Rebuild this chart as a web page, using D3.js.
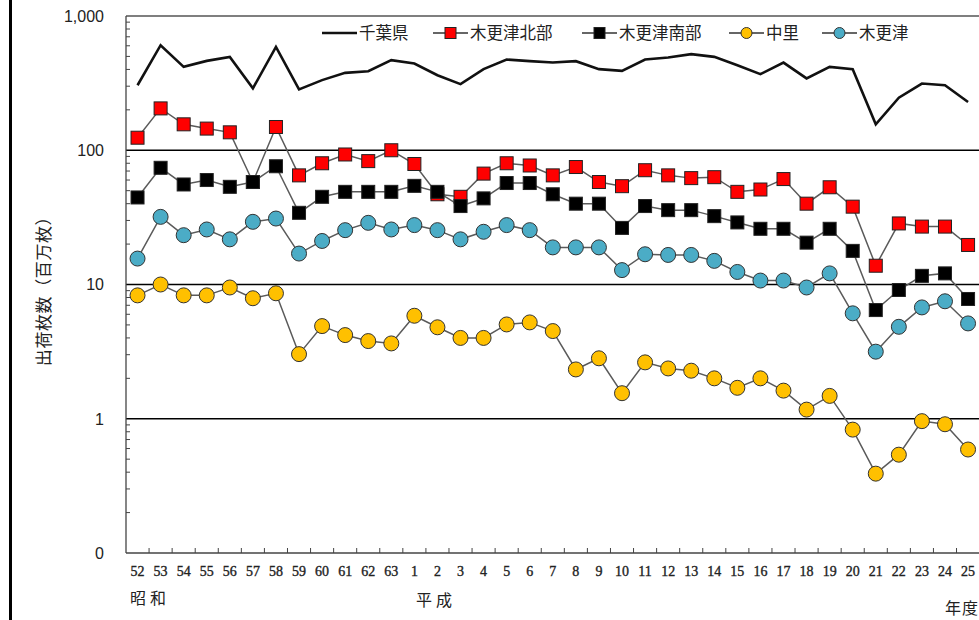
<!DOCTYPE html>
<html>
<head>
<meta charset="utf-8">
<script src="https://cdn.jsdelivr.net/npm/d3@7"></script>
<style>
  html, body { margin: 0; padding: 0; background: #fff; overflow: hidden; }
  svg { display: block; }
</style>
</head>
<body>
<svg id="chart" width="979" height="620"></svg>
<script>
// 年度（昭和52年度〜平成25年度）
const categories = ["52","53","54","55","56","57","58","59","60","61","62","63",
  "1","2","3","4","5","6","7","8","9","10","11","12","13","14","15","16","17","18","19","20","21","22","23","24","25"];

// 出荷枚数（百万枚）
const chiba = [305,606,418,463,496,289,589,284,333,377,388,469,
  443,362,311,402,474,461,450,461,402,390,474,491,520,496,430,369,450,343,418,402,156,246,314,305,229];
const kisarazuNorth = [124,205,156,145,136,58,149,65,80,93,83,100,
  79,47,45,67,80,77,65,75,58,54,71,65,62,63,49,51,61,40,53,38,13.8,28.5,27,27,19.7];
const kisarazuSouth = [44.5,74,55.6,60,53.4,58,76,34.2,45,49,49,49,
  54.3,49,38.4,43.8,57,57,47,40,40,26.4,38.4,35.8,35.8,32.3,29,26,26,20.5,26,17.8,6.45,9.1,11.6,12.1,7.8];
const nakazato = [8.3,10.0,8.3,8.3,9.5,7.9,8.6,3.03,4.9,4.2,3.79,3.64,
  5.85,4.8,4.0,4.0,5.04,5.22,4.5,2.33,2.82,1.55,2.63,2.37,2.28,2.0,1.70,2.0,1.62,1.17,1.48,0.83,0.39,0.54,0.96,0.91,0.59];
const kisarazu = [15.6,31.9,23.3,25.7,21.7,29.3,31,17,21.1,25.4,28.8,25.7,
  27.7,25.4,21.7,24.7,27.7,25.4,18.9,18.9,18.9,12.8,16.8,16.6,16.6,15,12.4,10.7,10.7,9.5,12.1,6.1,3.16,4.84,6.75,7.5,5.13];

// 縦軸の目盛
const yTickValues = [0.1, 1, 10, 100, 1000];
const yTickLabels = ["0", "1", "10", "100", "1,000"];

const seriesNames = ["千葉県", "木更津北部", "木更津南部", "中里", "木更津"];

const svg = d3.select("#chart");
const plotLeft = 126, plotRight = 126 + 37 * 23.07, plotTop = 16, plotBottom = 553;

const x = d3.scaleBand().domain(categories).range([plotLeft, plotRight]).padding(0);
const y = d3.scaleLog().domain([0.1, 1000]).range([plotBottom, plotTop]);
const cx = c => x(c) + x.bandwidth() / 2;

// page border on the left
svg.append("line").attr("x1", 10.5).attr("x2", 10.5).attr("y1", 0).attr("y2", 620)
  .attr("stroke", "#000").attr("stroke-width", 3);

// horizontal grid at each decade
const grid = svg.append("g");
[1, 10, 100].forEach(v => {
  grid.append("line").attr("x1", plotLeft).attr("x2", 979).attr("y1", y(v)).attr("y2", y(v))
    .attr("stroke", "#000").attr("stroke-width", 1.3);
});
grid.append("line").attr("x1", plotLeft).attr("x2", 979).attr("y1", y(1000)).attr("y2", y(1000))
  .attr("stroke", "#555").attr("stroke-width", 1.3);

// y axis: minor ticks pointing inward
const minor = [];
[0.1, 1, 10, 100].forEach(d => { for (let k = 2; k <= 9; k++) minor.push(d * k); });
const yAxisG = svg.append("g");
yAxisG.append("line").attr("x1", plotLeft).attr("x2", plotLeft).attr("y1", plotTop).attr("y2", plotBottom)
  .attr("stroke", "#444").attr("stroke-width", 1.3);
yAxisG.selectAll("line.minor").data(minor).enter().append("line").attr("class", "minor")
  .attr("x1", plotLeft).attr("x2", plotLeft + 4).attr("y1", d => y(d)).attr("y2", d => y(d))
  .attr("stroke", "#444").attr("stroke-width", 1);
yAxisG.selectAll("text").data(yTickValues).enter().append("text")
  .attr("x", 104).attr("y", d => y(d)).attr("dy", "0.36em")
  .attr("text-anchor", "end")
  .attr("font-family", "'Liberation Sans', Arial, sans-serif")
  .attr("font-size", 16).attr("fill", "#222")
  .text((d, i) => yTickLabels[i]);

// y axis title
svg.append("text")
  .attr("transform", "translate(50,287) rotate(-90)")
  .attr("text-anchor", "middle")
  .attr("font-family", "'Noto Sans CJK JP', sans-serif")
  .attr("font-size", 17).attr("letter-spacing", 0.6).attr("fill", "#222")
  .text("出荷枚数（百万枚）");

// x axis
const xAxisG = svg.append("g");
xAxisG.append("line").attr("x1", plotLeft).attr("x2", 979).attr("y1", plotBottom).attr("y2", plotBottom)
  .attr("stroke", "#444").attr("stroke-width", 1.3);
xAxisG.selectAll("line.tick").data(categories.slice(1)).enter().append("line").attr("class", "tick")
  .attr("x1", d => x(d)).attr("x2", d => x(d)).attr("y1", plotBottom).attr("y2", plotBottom - 5)
  .attr("stroke", "#444").attr("stroke-width", 1);
xAxisG.selectAll("text").data(categories).enter().append("text")
  .attr("x", d => cx(d)).attr("y", 576)
  .attr("text-anchor", "middle")
  .attr("font-family", "'Liberation Serif', 'DejaVu Serif', serif")
  .attr("font-size", 14).attr("fill", "#222")
  .attr("stroke", "#222").attr("stroke-width", 0.35)
  .text(d => d);

const eraFont = "'Noto Sans CJK JP', sans-serif";
svg.append("text").attr("x", 130).attr("y", 604).attr("font-family", eraFont)
  .attr("font-size", 16).attr("letter-spacing", 4).attr("fill", "#222").text("昭和");
svg.append("text").attr("x", 416).attr("y", 606).attr("font-family", eraFont)
  .attr("font-size", 16).attr("letter-spacing", 4).attr("fill", "#222").text("平成");
svg.append("text").attr("x", 945).attr("y", 614).attr("font-family", eraFont)
  .attr("font-size", 16).attr("letter-spacing", 1).attr("fill", "#222").text("年度");

// 千葉県 line
const line = d3.line().x((d, i) => cx(categories[i])).y(d => y(d));
svg.append("path").datum(chiba).attr("d", line)
  .attr("fill", "none").attr("stroke", "#111").attr("stroke-width", 2.6)
  .attr("stroke-linejoin", "miter");

// marker series
const markerSeries = [
  { data: kisarazuNorth, shape: "square", fill: "#FF0000" },
  { data: kisarazuSouth, shape: "square", fill: "#000000" },
  { data: nakazato, shape: "circle", fill: "#FFC000" },
  { data: kisarazu, shape: "circle", fill: "#4BACC6" }
];

markerSeries.forEach(s => {
  const g = svg.append("g");
  g.append("path").datum(s.data).attr("d", line)
    .attr("fill", "none").attr("stroke", "#5a5a5a").attr("stroke-width", 1.5);
  if (s.shape === "square") {
    g.selectAll("rect").data(s.data).enter().append("rect")
      .attr("x", (d, i) => cx(categories[i]) - 6.5).attr("y", d => y(d) - 6.5)
      .attr("width", 13).attr("height", 13)
      .attr("fill", s.fill).attr("stroke", "#222").attr("stroke-width", 1);
  } else {
    g.selectAll("circle").data(s.data).enter().append("circle")
      .attr("cx", (d, i) => cx(categories[i])).attr("cy", d => y(d)).attr("r", 7.5)
      .attr("fill", s.fill).attr("stroke", "#333").attr("stroke-width", 1);
  }
});

// legend
const legend = svg.append("g");
const legendY = 33;
const legendItems = [
  { x0: 322, shape: "line", fill: null },
  { x0: 433, shape: "square", fill: "#FF0000" },
  { x0: 582, shape: "square", fill: "#000000" },
  { x0: 729, shape: "circle", fill: "#FFC000" },
  { x0: 822, shape: "circle", fill: "#4BACC6" }
];
legendItems.forEach((it, i) => {
  const g = legend.append("g");
  g.append("line").attr("x1", it.x0).attr("x2", it.x0 + 35).attr("y1", legendY).attr("y2", legendY)
    .attr("stroke", it.shape === "line" ? "#111" : "#333")
    .attr("stroke-width", it.shape === "line" ? 2.6 : 1.3);
  if (it.shape === "square") {
    g.append("rect").attr("x", it.x0 + 17.5 - 5.5).attr("y", legendY - 5.5)
      .attr("width", 11).attr("height", 11)
      .attr("fill", it.fill).attr("stroke", "#222").attr("stroke-width", 1);
  } else if (it.shape === "circle") {
    g.append("circle").attr("cx", it.x0 + 17.5).attr("cy", legendY).attr("r", 5.5)
      .attr("fill", it.fill).attr("stroke", "#333").attr("stroke-width", 1);
  }
  g.append("text").attr("x", it.x0 + 37).attr("y", legendY).attr("dy", "0.36em")
    .attr("font-family", "'Noto Sans CJK JP', sans-serif")
    .attr("font-size", 16.5).attr("fill", "#222")
    .text(seriesNames[i]);
});
</script>
</body>
</html>
